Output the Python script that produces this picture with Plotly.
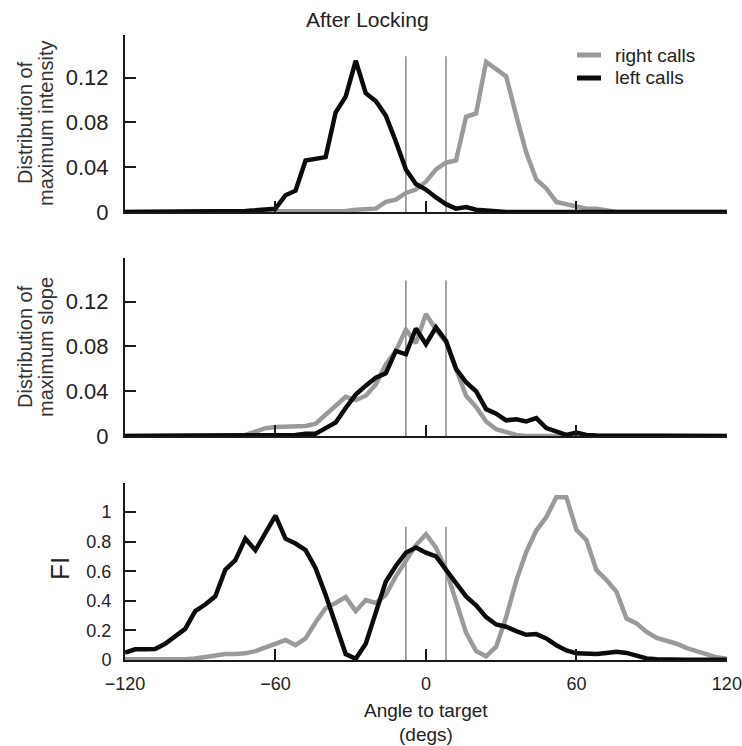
import plotly.graph_objects as go

angles = [-120, -116, -112, -108, -104, -100, -96, -92, -88, -84, -80, -76, -72, -68, -64, -60,
          -56, -52, -48, -44, -40, -36, -32, -28, -24, -20, -16, -12, -8, -4, 0, 4, 8, 12, 16,
          20, 24, 28, 32, 36, 40, 44, 48, 52, 56, 60, 64, 68, 72, 76, 80, 84, 88, 92, 96, 100,
          104, 108, 112, 116, 120]

intensity_left = [0, 0, 0, 0, 0, 0, 0, 0, 0, 0.0005, 0.001, 0.0005, 0.001, 0.0015, 0.002, 0.003,
                  0.015, 0.019, 0.046, 0.048, 0.049, 0.089, 0.103, 0.135, 0.106, 0.099, 0.086, 0.063,
                  0.038, 0.025, 0.020, 0.013, 0.007, 0.003, 0.0045, 0.002, 0.001,
                  0, 0, 0, 0, 0, 0, 0, 0, 0, 0, 0, 0, 0, 0, 0, 0, 0, 0, 0, 0, 0, 0, 0, 0]
intensity_right = [0, 0, 0, 0, 0, 0, 0, 0, 0, 0, 0, 0, 0, 0, 0, 0, 0, 0, 0, 0, 0,
                   0.0005, 0.001, 0.002, 0.002, 0.003, 0.009, 0.011, 0.017, 0.020, 0.027, 0.038,
                   0.044, 0.046, 0.085, 0.088, 0.134, 0.128, 0.121, 0.086, 0.053, 0.029, 0.021,
                   0.009, 0.007, 0.005, 0.003, 0.003, 0.001,
                   0, 0, 0, 0, 0, 0, 0, 0, 0, 0, 0, 0]

slope_right = [0, 0, 0, 0, 0, 0, 0, 0, 0, 0, 0, 0,
               0.001, 0.004, 0.007, 0.008, 0.008, 0.008, 0.009, 0.011, 0.019, 0.027, 0.035, 0.032,
               0.036, 0.046, 0.064, 0.076, 0.095, 0.083, 0.109, 0.095, 0.084, 0.060, 0.036, 0.026,
               0.013, 0.006, 0.003, 0.001,
               0, 0, 0, 0, 0, 0, 0, 0, 0, 0, 0, 0, 0, 0, 0, 0, 0, 0, 0, 0, 0]
slope_left = [0, 0, 0, 0, 0, 0, 0, 0, 0, 0, 0, 0, 0, 0, 0, 0, 0,
              0.001, 0.002, 0.002, 0.007, 0.012, 0.025, 0.037, 0.045, 0.052, 0.056, 0.076, 0.073,
              0.096, 0.082, 0.097, 0.085, 0.060, 0.048, 0.040, 0.024, 0.020, 0.014, 0.015, 0.013,
              0.016, 0.007, 0.004, 0.001, 0.003, 0.001,
              0.0005, 0.0005, 0.0005, 0.0005, 0.0005, 0.0005, 0.0005, 0.0005, 0.0005,
              0, 0, 0, 0, 0]

fi_left = [0.05, 0.072, 0.072, 0.075, 0.11, 0.16, 0.21, 0.33, 0.375, 0.43, 0.61, 0.675, 0.82,
           0.742, 0.854, 0.975, 0.82, 0.787, 0.742, 0.62, 0.44, 0.23, 0.04, 0.008, 0.11, 0.32,
           0.53, 0.635, 0.725, 0.76, 0.725, 0.70, 0.61, 0.53, 0.43, 0.37, 0.29, 0.24, 0.225,
           0.195, 0.17, 0.175, 0.146, 0.10, 0.065, 0.045, 0.042, 0.04, 0.048, 0.056, 0.048,
           0.03, 0.011, 0.005, 0.002, 0.002, 0.002, 0.002, 0.002, 0.002, 0.002]
fi_right = [0.005, 0.005, 0.004, 0.003, 0.002, 0.003, 0.005, 0.01, 0.018, 0.03, 0.04, 0.04,
            0.045, 0.06, 0.085, 0.11, 0.135, 0.10, 0.146, 0.255, 0.35, 0.385, 0.425, 0.33,
            0.405, 0.385, 0.44, 0.565, 0.665, 0.775, 0.85, 0.76, 0.61, 0.39, 0.185, 0.06, 0.025,
            0.09, 0.29, 0.535, 0.73, 0.875, 0.965, 1.10, 1.10, 0.88, 0.81, 0.607, 0.54, 0.46,
            0.28, 0.247, 0.19, 0.15, 0.13, 0.11, 0.08, 0.06, 0.035, 0.018, 0.008]

marker_angles = [-8, 8]
marker_tops = [0.139, 0.139, 0.9]

x_ticks = [-120, -60, 0, 60, 120]
x_tick_text = ["\u2212120", "\u221260", "0", "60", "120"]
dist_ticks = [0, 0.04, 0.08, 0.12]
dist_tick_text = ["0", "0.04", "0.08", "0.12"]
fi_ticks = [0, 0.2, 0.4, 0.6, 0.8, 1]
fi_tick_text = ["0", "0.2", "0.4", "0.6", "0.8", "1"]

series_names = ["right calls", "left calls"]
panel_title_lines = [["Distribution of", "maximum intensity"],
                     ["Distribution of", "maximum slope"]]
fi_title = "FI"

GRAY = "#9a9a9a"
BLACK = "#0b0b0b"
AXC = "#1a1a1a"
FONT = "Liberation Sans, Arial, sans-serif"

# layout geometry (pixels)
W, H = 742, 746
L, R, T, B = 125, 15, 35, 86
pw, ph = W - L - R, H - T - B


def py(v):
    return (H - B - v) / ph


def px(v):
    return (v - L) / pw


domains = [[py(212), 1.0], [py(436), py(258)], [0.0, py(483)]]
ranges = [[0, 0.158], [0, 0.159], [0, 1.196]]

fig = go.Figure()
panels = [(intensity_right, intensity_left), (slope_right, slope_left), (fi_right, fi_left)]
for i, (right, left) in enumerate(panels):
    xa = "x" if i == 0 else f"x{i+1}"
    ya = "y" if i == 0 else f"y{i+1}"
    fig.add_trace(go.Scatter(x=angles, y=right, mode="lines", xaxis=xa, yaxis=ya,
                             line=dict(color=GRAY, width=4.5), showlegend=False))
    fig.add_trace(go.Scatter(x=angles, y=left, mode="lines", xaxis=xa, yaxis=ya,
                             line=dict(color=BLACK, width=4.5), showlegend=False))
    for a in marker_angles:
        fig.add_shape(type="line", xref=xa, yref=ya, x0=a, x1=a, y0=0, y1=marker_tops[i],
                      line=dict(color="#8a8a8a", width=1.5), layer="below")

for i in range(3):
    sfx = "" if i == 0 else str(i + 1)
    bottom = i == 2
    fig.layout["xaxis" + sfx] = dict(
        domain=[0, 1], range=[-120, 120.05], anchor="y" + sfx, automargin=False,
        showline=True, linecolor=AXC, linewidth=2, showgrid=False, zeroline=False,
        ticks="inside", ticklen=11, tickwidth=2, tickcolor=AXC,
        tickvals=x_ticks, ticktext=x_tick_text, showticklabels=bottom,
        tickfont=dict(family=FONT, size=18, color="#222"), ticklabelstandoff=6,
    )
    fig.layout["yaxis" + sfx] = dict(
        domain=domains[i], range=ranges[i], anchor="x" + sfx, automargin=False,
        showline=True, linecolor=AXC, linewidth=2, showgrid=False, zeroline=False,
        ticks="inside", ticklen=11, tickwidth=2, tickcolor=AXC,
        tickvals=fi_ticks if bottom else dist_ticks,
        ticktext=fi_tick_text if bottom else dist_tick_text,
        tickfont=dict(family=FONT, size=18 if bottom else 22, color="#222"),
        ticklabelstandoff=8 if bottom else 10,
    )

annotations = [
    dict(text="After Locking", x=px(367), y=py(20), xref="paper", yref="paper",
         showarrow=False, font=dict(family=FONT, size=21, color="#222"),
         xanchor="center", yanchor="middle"),
    dict(text=fi_title, x=px(60), y=py(569), xref="paper", yref="paper",
         showarrow=False, textangle=-90, font=dict(family=FONT, size=26, color="#222"),
         xanchor="center", yanchor="middle"),
    dict(text="Angle to target", x=px(426), y=py(711), xref="paper", yref="paper",
         showarrow=False, font=dict(family=FONT, size=19, color="#222"),
         xanchor="center", yanchor="middle"),
    dict(text="(degs)", x=px(426), y=py(734), xref="paper", yref="paper",
         showarrow=False, font=dict(family=FONT, size=19, color="#222"),
         xanchor="center", yanchor="middle"),
]
title_centers = [123, 347]
line_x = [25, 46]
for lines, cy in zip(panel_title_lines, title_centers):
    for txt, lx in zip(lines, line_x):
        annotations.append(dict(text=txt, x=px(lx), y=py(cy), xref="paper", yref="paper",
                                showarrow=False, textangle=-90,
                                font=dict(family=FONT, size=20, color="#333"),
                                xanchor="center", yanchor="middle"))

# legend (manual)
leg_rows = [55, 78]
leg_cols = [GRAY, BLACK]
for name, row, col in zip(series_names, leg_rows, leg_cols):
    fig.add_shape(type="line", xref="paper", yref="paper", x0=px(577), x1=px(601),
                  y0=py(row), y1=py(row), line=dict(color=col, width=5))
    annotations.append(dict(text=name, x=px(613), y=py(row), xref="paper", yref="paper",
                            showarrow=False, xanchor="left", yanchor="middle",
                            font=dict(family=FONT, size=19, color="#222")))

fig.update_layout(
    width=W, height=H, margin=dict(l=L, r=R, t=T, b=B, autoexpand=False),
    paper_bgcolor="white", plot_bgcolor="white",
    annotations=annotations, showlegend=False,
)

fig.write_html("out.html")
